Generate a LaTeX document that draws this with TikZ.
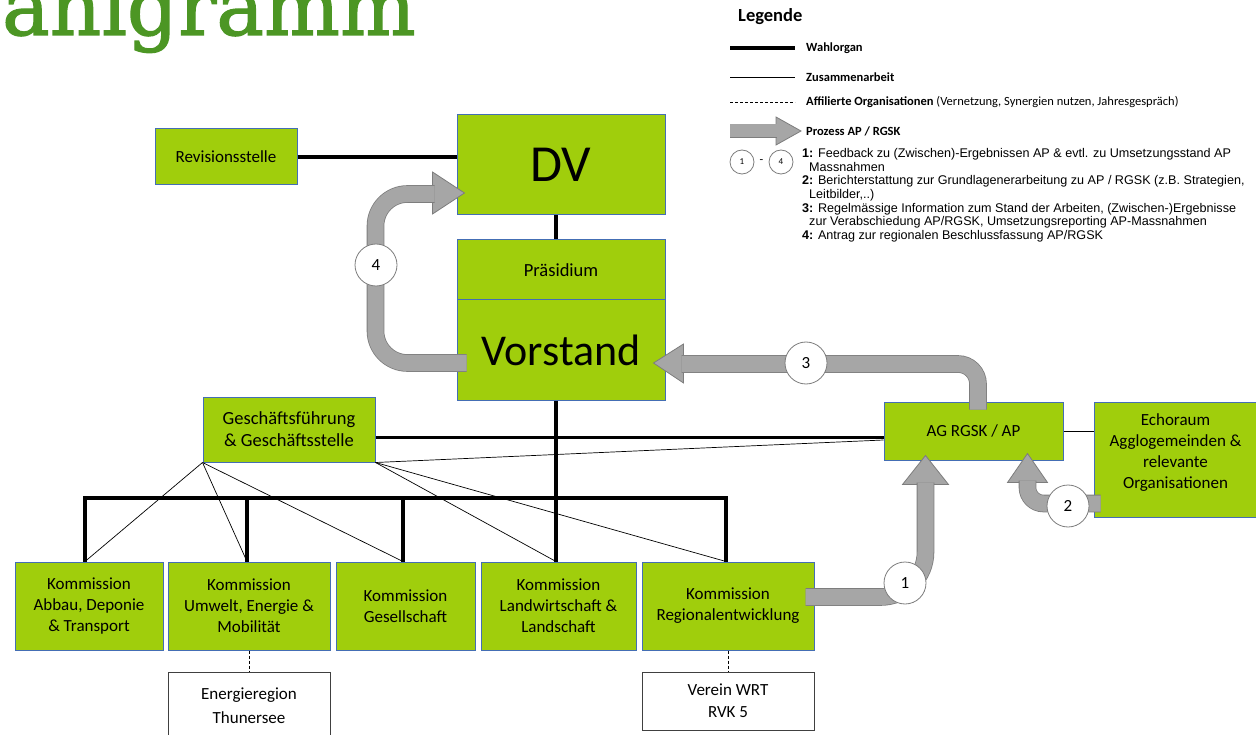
\documentclass[tikz,border=0pt]{standalone}
\usepackage{fontspec}
\setmainfont{Carlito}
\newfontfamily\arialfont{Liberation Sans}
\newfontfamily\titelfont[FakeBold=1.6]{DejaVu Serif}
\usetikzlibrary{calc}

\definecolor{boxgreen}{RGB}{160,206,12}
\definecolor{boxblue}{RGB}{68,110,180}
\definecolor{titelgreen}{RGB}{76,150,36}
\definecolor{procgray}{RGB}{166,166,166}
\definecolor{procedge}{RGB}{125,125,125}

\tikzset{
	org/.style={draw=boxblue, fill=boxgreen, line width=1pt, align=center, inner sep=0pt, font=\fontsize{17}{21}\selectfont},
	extern/.style={draw=black!75, fill=white, line width=0.8pt, align=center, inner sep=0pt, font=\fontsize{17}{22}\selectfont},
	wahl/.style={line width=3.5pt},
	zusammen/.style={line width=0.7pt},
	affil/.style={line width=0.7pt, dash pattern=on 3pt off 2pt},
	prozess/.style={draw=procedge, line width=0.8pt, double=procgray, double distance=16pt},
	spitze/.style={draw=procedge, fill=procgray, line width=0.8pt},
	nr/.style={circle, draw=procedge, fill=white, line width=0.8pt, minimum size=42pt, inner sep=0pt, font=\fontsize{17}{17}\selectfont},
	legtext/.style={anchor=west, inner sep=0pt, font=\fontsize{12.5}{14}\selectfont}
}

\begin{document}
\begin{tikzpicture}[x=1pt, y=-1pt]
	\path[use as bounding box, clip] (0,0) rectangle (1256,735);

	\node[anchor=base east, inner sep=0pt, text=titelgreen, font=\titelfont\fontsize{80}{80}\selectfont] (titel) at (416,35) {Organigramm};

	% Legende
	\node[anchor=west, inner sep=0pt, font=\bfseries\fontsize{18.5}{20}\selectfont] (legende) at (738,17) {Legende};
	\node[legtext] (lwahl) at (806,48) {\textbf{Wahlorgan}};
	\node[legtext] (lzus) at (806,77) {\textbf{Zusammenarbeit}};
	\node[legtext] (laffil) at (806,102) {\textbf{Affilierte Organisationen} (Vernetzung, Synergien nutzen, Jahresgespräch)};
	\node[legtext] (lproz) at (806,131) {\textbf{Prozess AP / RGSK}};
	\draw[wahl] ($(lwahl.west)+(-76,0)$) -- ($(lwahl.west)+(-11,0)$);
	\draw[zusammen] ($(lzus.west)+(-76,0)$) -- ($(lzus.west)+(-11,0)$);
	\draw[affil] ($(laffil.west)+(-76,0)$) -- ($(laffil.west)+(-11,0)$);
	\filldraw[spitze] (776,117) -- (801,131) -- (776,145) -- cycle;
	\draw[prozess, double distance=13pt] (730,131) -- (777,131);
	\node[nr, minimum size=24pt, font=\fontsize{9}{9}\selectfont] (leg1) at (742,162) {1};
	\node[nr, minimum size=24pt, font=\fontsize{9}{9}\selectfont] (leg4) at (781,162) {4};
	\node[inner sep=0pt, font=\fontsize{12}{12}\selectfont] (legbis) at (761.5,162) {-};
	\node[anchor=north west, align=left, inner sep=0pt, font=\arialfont\fontsize{12.6}{13.7}\selectfont] (legitems) at (802,148) {%
		\textbf{1:} Feedback zu (Zwischen)-Ergebnissen AP \& evtl. zu Umsetzungsstand AP\\
		\hspace*{7pt}Massnahmen\\
		\textbf{2:} Berichterstattung zur Grundlagenerarbeitung zu AP / RGSK (z.B. Strategien,\\
		\hspace*{7pt}Leitbilder,..)\\
		\textbf{3:} Regelmässige Information zum Stand der Arbeiten, (Zwischen-)Ergebnisse\\
		\hspace*{7pt}zur Verabschiedung AP/RGSK, Umsetzungsreporting AP-Massnahmen\\
		\textbf{4:} Antrag zur regionalen Beschlussfassung AP/RGSK};

	% Organe
	\node[org, minimum width=208pt, minimum height=100pt, font=\fontsize{52}{52}\selectfont] (dv) at (561,165) {DV};
	\node[org, minimum width=142pt, minimum height=56pt] (rev) at (226,157) {Revisionsstelle};
	\node[org, minimum width=208pt, minimum height=60pt, font=\fontsize{18.5}{21}\selectfont] (praes) at (561,270) {Präsidium};
	\node[org, minimum width=208pt, minimum height=100pt, font=\fontsize{44}{44}\selectfont] (vorst) at (561,350) {Vorstand};
	\node[org, minimum width=172pt, minimum height=65pt, font=\fontsize{18.5}{22}\selectfont] (gf) at (289,429.5) {Geschäftsführung\\\& Geschäftsstelle};
	\node[org, minimum width=179pt, minimum height=58pt] (ag) at (973.5,431) {AG RGSK / AP};
	\node[org, minimum width=163pt, minimum height=115pt, label={[align=center, font=\fontsize{17}{21}\selectfont, yshift=7pt]center:{Echoraum\\Agglogemeinden \&\\relevante\\Organisationen}}] (echo) at (1175.5,459.5) {};

	\node[org, minimum width=148pt, minimum height=88pt] (k1) at (89,606) {Kommission\\Abbau, Deponie\\\& Transport};
	\node[org, minimum width=162pt, minimum height=88pt] (k2) at (249,606) {Kommission\\Umwelt, Energie \&\\Mobilität};
	\node[org, minimum width=139pt, minimum height=88pt] (k3) at (405.5,606) {Kommission\\Gesellschaft};
	\node[org, minimum width=155pt, minimum height=88pt] (k4) at (558.5,606) {Kommission\\Landwirtschaft \&\\Landschaft};
	\node[org, minimum width=172pt, minimum height=88pt] (k5) at (728,606) {Kommission\\Regionalentwicklung};

	\node[extern, minimum width=162pt, minimum height=68pt, font=\fontsize{17}{24}\selectfont] (ener) at (249,706) {Energieregion\\Thunersee};
	\node[extern, minimum width=172pt, minimum height=58pt] (wrt) at (728,701) {Verein WRT\\RVK 5};

	% Linien
	\coordinate (b1) at (85,498);
	\coordinate (b2) at (247,498);
	\coordinate (b3) at (403,498);
	\coordinate (b4) at (556,498);
	\coordinate (b5) at (726,498);
	\coordinate (gfag) at ($(gf.east)+(0,8)$);

	\draw[wahl] (rev.east) -- (rev.east -| dv.west);
	\draw[wahl] ($(dv.south)+(-5,0)$) -- ($(praes.north)+(-5,0)$);
	\draw[wahl] ($(vorst.south)+(-5,0)$) -- (b4 |- k4.north);
	\draw[wahl] (b1 |- k1.north) -- (b1) -- (b5) -- (b5 |- k5.north);
	\draw[wahl] (b2) -- (b2 |- k2.north);
	\draw[wahl] (b3) -- (b3 |- k3.north);
	\draw[wahl] (gfag) -- (gfag -| ag.west);

	\draw[zusammen] (gf.south west) -- (b1 |- k1.north);
	\draw[zusammen] (gf.south west) -- (b2 |- k2.north);
	\draw[zusammen] (gf.south west) -- (b3 |- k3.north);
	\draw[zusammen] (gf.south east) -- (b4 |- k4.north);
	\draw[zusammen] (gf.south east) -- (b5 |- k5.north);
	\draw[zusammen] (gf.south east) -- ($(ag.west)+(0,9)$);
	\draw[zusammen] (ag.east) -- (echo.west |- ag.east);

	\draw[affil] (k2.south) -- (ener.north);
	\draw[affil] (k5.south) -- (wrt.north);

	% Prozess AP / RGSK
	\filldraw[spitze] ($(dv.west)+(-24,7)$) -- ($(dv.west)+(8,28)$) -- ($(dv.west)+(-24,49)$) -- cycle;
	\draw[prozess, rounded corners=32pt] ($(vorst.west)+(10,13)$) -| ($(dv.west)+(-81,29)$) -- ($(dv.west)+(-22,29)$);

	\filldraw[spitze] ($(vorst.east)+(18,-6)$) -- ($(vorst.east)+(-12,13)$) -- ($(vorst.east)+(18,33)$) -- cycle;
	\draw[prozess, rounded corners=20pt] ($(ag.north)+(4.5,8)$) |- ($(vorst.east)+(16,14)$);

	\filldraw[spitze] ($(ag.south)+(-71,24)$) -- ($(ag.south)+(-48,-5)$) -- ($(ag.south)+(-25,24)$) -- cycle;
	\draw[prozess, rounded corners=45pt] ($(k5.east)+(-9,-9)$) -| ($(ag.south)+(-48,22)$);

	\filldraw[spitze] ($(ag.south)+(34,22)$) -- ($(ag.south)+(54,-7)$) -- ($(ag.south)+(74,22)$) -- cycle;
	\draw[prozess, rounded corners=16pt] ($(echo.west)+(7,44)$) -| ($(ag.south)+(54,20)$);

	\node[nr] (n4) at (376,265) {4};
	\node[nr] (n3) at (806,363) {3};
	\node[nr] (n1) at (905,583) {1};
	\node[nr] (n2) at (1068,506) {2};
\end{tikzpicture}
\end{document}
